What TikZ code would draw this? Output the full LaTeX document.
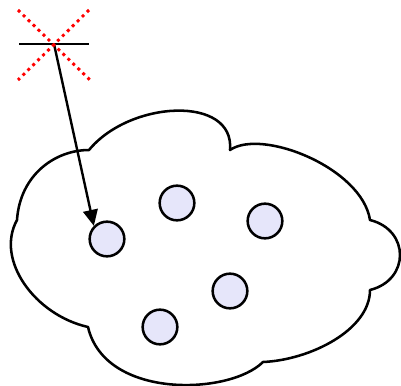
\documentclass[tikz,border=0pt]{standalone}
\usepackage{tikz}
\usetikzlibrary{arrows.meta}
\definecolor{lavanda}{HTML}{E6E6FA}

\begin{document}
\begin{tikzpicture}[
		x=0.75pt, y=-0.75pt,
		nube/.style={
			draw=black,
			line width=1.9pt,
			fill=white,
			line join=round
		},
		bola/.style={
			circle,
			draw=black,
			line width=1.9pt,
			fill=lavanda,
			minimum size=26pt,
			inner sep=0pt
		},
		barra/.style={
			black,
			line width=1.9pt
		},
		flecha/.style={
			-{Triangle[length=12pt,width=11pt]},
			line width=1.8pt,
			black
		},
		cruz/.style={
			red,
			line width=2.2pt,
			dash pattern=on 2.2pt off 3pt
		}
		]
		\useasboundingbox (0,0) rectangle (401,386);
		% Cloud
		\draw[nube] (17,220)
		.. controls (20,175) and (55,150) .. (89,150)
		.. controls (130,100) and (235,95) .. (230,150)
		.. controls (262,128) and (362,168) .. (370,220)
		.. controls (410,230) and (410,280) .. (370,290)
		.. controls (370,330) and (310,360) .. (263,362)
		.. controls (230,395) and (105,400) .. (88,327)
		.. controls (35,315) and (-5,260) .. (17,220) -- cycle;
		% Nodes
		\node[bola] (p1) at (107,239) {};
		\node[bola] (p2) at (177,203) {};
		\node[bola] (p3) at (265,221) {};
		\node[bola] (p4) at (230,291) {};
		\node[bola] (p5) at (160,327) {};
		% Target
		\coordinate (tgt) at (54,44);
		\draw[barra] (19,44) -- (89,44);
		% Arrows
		\draw[flecha] (tgt) -- (p1.north west);
		% Cross
		\draw[cruz] (18,10) -- (90,80);
		\draw[cruz] (89,10) -- (18,80);
	\end{tikzpicture}
\end{document}
